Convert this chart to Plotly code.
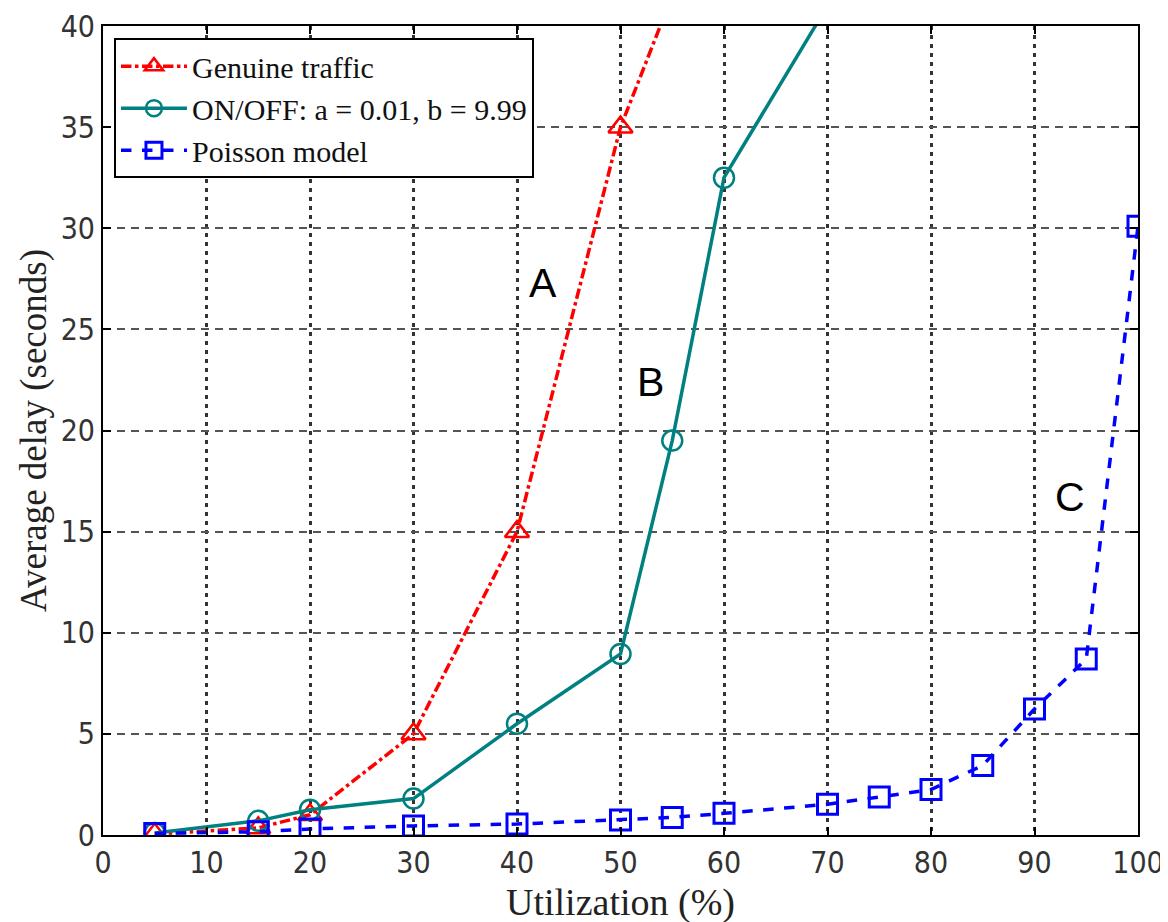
import plotly.graph_objects as go

# Data
util_genuine = [5, 15, 20, 30, 40, 50, 55]
delay_genuine = [0.05, 0.35, 1.0, 5.0, 15.0, 35.0, 41.5]

util_onoff = [5, 15, 20, 30, 40, 50, 55, 60, 70]
delay_onoff = [0.1, 0.7, 1.25, 1.8, 5.5, 8.95, 19.5, 32.5, 41.0]

util_poisson = [5, 15, 20, 30, 40, 50, 55, 60, 70, 75, 80, 85, 90, 95, 100]
delay_poisson = [0.08, 0.16, 0.3, 0.45, 0.54, 0.74, 0.87, 1.07, 1.52, 1.88, 2.25, 3.44, 6.23, 8.7, 30.1]

x_ticks = [0, 10, 20, 30, 40, 50, 60, 70, 80, 90, 100]
y_ticks = [0, 5, 10, 15, 20, 25, 30, 35, 40]

labels = ["A", "B", "C"]
label_x = [42.5, 52.9, 93.4]
label_y = [27.3, 22.4, 16.7]

serif = "Liberation Serif, Times New Roman, serif"
narrow = "Liberation Sans Narrow, DejaVu Sans Condensed, Arial Narrow, sans-serif"

fig = go.Figure()
fig.add_trace(go.Scatter(
    x=util_genuine, y=delay_genuine, name="Genuine traffic",
    mode="lines+markers",
    line=dict(color="#ff0000", width=3.5, dash="dashdot"),
    marker=dict(symbol="triangle-up-open", size=21, color="#ff0000", line=dict(width=2.5)),
))
fig.add_trace(go.Scatter(
    x=util_onoff, y=delay_onoff, name="ON/OFF: a = 0.01, b = 9.99",
    mode="lines+markers",
    line=dict(color="#008080", width=3.5),
    marker=dict(symbol="circle-open", size=20, color="#008080", line=dict(width=2.5)),
))
fig.add_trace(go.Scatter(
    x=util_poisson, y=delay_poisson, name="Poisson model",
    mode="lines+markers",
    line=dict(color="#0000ff", width=3.5, dash="dash"),
    marker=dict(symbol="square-open", size=20, color="#0000ff", line=dict(width=3)),
))

for t, lx, ly in zip(labels, label_x, label_y):
    fig.add_annotation(x=lx, y=ly, text=t, showarrow=False,
                       font=dict(family="Liberation Sans, Arial, sans-serif", size=41, color="black"))

fig.update_layout(
    width=1168, height=922,
    margin=dict(l=95, r=38, t=18, b=95),
    paper_bgcolor="white", plot_bgcolor="white",
    showlegend=True,
    legend=dict(
        x=0.0106, y=0.985, xanchor="left", yanchor="top",
        bgcolor="white", bordercolor="black", borderwidth=2,
        font=dict(family=serif, size=30, color="#111"),
        tracegroupgap=0, itemwidth=66,
    ),
)
fig.update_xaxes(
    range=[0, 100], tickvals=x_ticks, automargin=False,
    showline=True, linecolor="black", linewidth=2, mirror="ticks",
    ticks="inside", ticklen=8, tickcolor="black", tickwidth=2,
    showgrid=True, gridcolor="#333", gridwidth=2.5, griddash="4px,5px",
    zeroline=False, ticklabeloverflow="allow",
    tickfont=dict(family=narrow, size=30, color="#333"),
    title=dict(text="Utilization (%)", font=dict(family=serif, size=38, color="#222"), standoff=9),
)
fig.update_yaxes(
    range=[0, 40], tickvals=y_ticks, automargin=False,
    showline=True, linecolor="black", linewidth=2, mirror="ticks",
    ticks="inside", ticklen=8, tickcolor="black", tickwidth=2,
    showgrid=True, gridcolor="#555", gridwidth=2, griddash="8px,6px",
    zeroline=False, ticklabeloverflow="allow",
    tickfont=dict(family=narrow, size=30, color="#333"),
    title=dict(text="Average delay (seconds)", font=dict(family=serif, size=37, color="#222"), standoff=3),
)

fig.write_html("out.html")
